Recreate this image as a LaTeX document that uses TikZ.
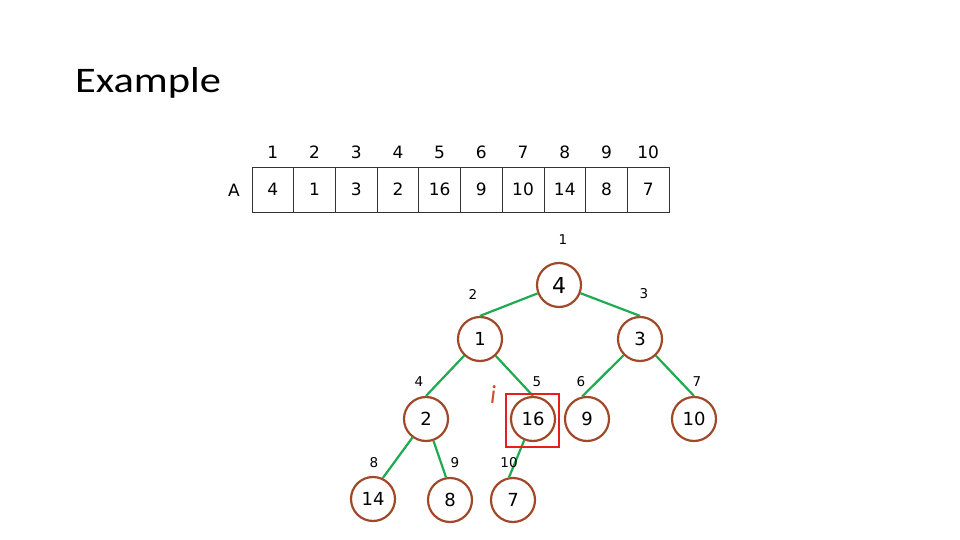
\documentclass[tikz,border=0pt]{standalone}
\usepackage{fontspec}
\setmainfont{Carlito}
\newfontfamily\titlefont[FakeStretch=1.18]{Carlito}
\newfontfamily\dvs{DejaVu Sans}
\definecolor{brn}{RGB}{160,72,40}
\definecolor{grn}{RGB}{30,170,80}
\definecolor{redbox}{RGB}{230,30,30}
\definecolor{iclr}{RGB}{205,80,40}
\begin{document}
\begin{tikzpicture}[x=1pt,y=-1pt,
  cell/.style={draw=black!80,line width=0.8pt,minimum width=41.7pt,minimum height=45pt,inner sep=0pt,font=\dvs\fontsize{17}{20}\selectfont},
  idx/.style={font=\dvs\fontsize{17}{20}\selectfont},
  hnode/.style={circle,draw=brn,line width=2.2pt,minimum size=44pt,inner sep=0pt,font=\dvs\fontsize{18}{22}\selectfont},
  tidx/.style={font=\dvs\fontsize{13.5}{16}\selectfont},
  edge/.style={draw=grn,line width=2.2pt}]
\useasboundingbox (0,0) rectangle (960,540);
\node[anchor=base west,font=\titlefont\fontsize{36}{40}\selectfont,inner sep=0pt] (title) at (75,93) {Example};
% array
\node[idx] (A) at (234,190) {A};
\foreach \v [count=\k] in {4,1,3,2,16,9,10,14,8,7} {
  \node[cell] (c\k) at ({252+41.7*(\k-0.5)},189.5) {\v};
  \node[idx] (i\k) at ({252+41.7*(\k-0.5)},152) {\k};
}
% tree
\node[hnode,font=\dvs\fontsize{22}{26}\selectfont] (n1) at (559,285) {4};
\node[hnode] (n2) at (480,339) {1};
\node[hnode] (n3) at (640,339) {3};
\node[hnode] (n4) at (426,419) {2};
\node[hnode] (n5) at (533,419) {16};
\node[hnode] (n6) at (587,419) {9};
\node[hnode] (n7) at (694,419) {10};
\node[hnode] (n8) at (373,499) {14};
\node[hnode] (n9) at (450,500) {8};
\node[hnode] (n10) at (513,500) {7};
\draw[edge] (n1) -- (n2.north);
\draw[edge] (n1) -- (n3.north);
\draw[edge] (n2) -- (n4.north);
\draw[edge] (n2) -- (n5.north);
\draw[edge] (n3) -- (n6.102);
\draw[edge] (n3) -- (n7.north);
\draw[edge] (n4) -- (n8.65);
\draw[edge] (n4) -- (n9.100);
\draw[edge] (n5) -- (n10.100);
% tree indices
\node[tidx] (t1) at (563,240) {1};
\node[tidx] (t2) at (473,294) {2};
\node[tidx] (t3) at (644,294) {3};
\node[tidx] (t4) at (419,382) {4};
\node[tidx] (t5) at (537,382) {5};
\node[tidx] (t6) at (581,382) {6};
\node[tidx] (t7) at (697,382) {7};
\node[tidx] (t8) at (374,463) {8};
\node[tidx] (t9) at (455,463) {9};
\node[tidx] (t10) at (509,463) {10};
% highlight
\node[draw=redbox,line width=2pt,minimum width=53pt,minimum height=53pt,inner sep=0pt] (hl) at (532,420) {};
\node[text=iclr,font=\fontsize{26}{28}\selectfont\itshape] (ilab) at (493,395) {i};
\end{tikzpicture}
\end{document}
